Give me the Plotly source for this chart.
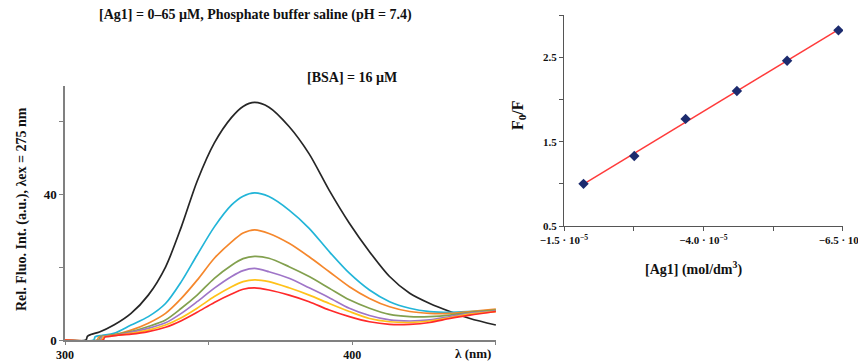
import numpy as np
import plotly.graph_objects as go

# ---------------- Data: fluorescence spectra ----------------
lam_main = [317, 323, 329, 335, 340.5, 346, 352, 358, 362, 366, 371, 378, 385, 392,
            399, 406, 413, 420, 427, 434, 441, 450]

series_names = ["0 µM", "c1", "c2", "c3", "c4", "c5", "c6"]
colors = ["#262626", "#22B5D8", "#F5872C", "#82A04E", "#9F75C8", "#FFC21A", "#FF2A2A"]

onset_lam = {
    "0 µM": [300, 307.3, 307.8, 309, 312],
    "c1": [300, 310.0, 310.5, 313],
    "c2": [300, 311.2, 311.7, 314],
    "c3": [300, 311.8, 312.3, 314.5],
    "c4": [300, 312.3, 312.8, 315],
    "c5": [300, 312.8, 313.3, 315],
    "c6": [300, 313.3, 313.8, 315.5],
}
onset_val = {
    "0 µM": [0, 0, 1.0, 1.5, 2.2],
    "c1": [0, 0, 0.9, 1.3],
    "c2": [0, 0, 0.8, 1.1],
    "c3": [0, 0, 0.8, 1.1],
    "c4": [0, 0, 0.8, 1.0],
    "c5": [0, 0, 0.8, 1.0],
    "c6": [0, 0, 0.8, 1.0],
}
main_val = {
    "0 µM": [4.1, 7.3, 12.3, 20.0, 31.0, 43.5, 54.0, 61.0, 64.0, 65.1, 63.8, 58.5, 51.0, 41.0,
             32.0, 24.2, 17.4, 12.8, 10.0, 7.8, 5.9, 4.1],
    "c1": [1.8, 4.1, 6.4, 10.0, 16.0, 23.3, 31.0, 37.0, 39.4, 40.3, 39.3, 35.6, 30.6, 24.2,
           18.3, 13.7, 10.5, 8.7, 7.8, 7.6, 7.8, 8.2],
    "c2": [1.4, 2.7, 4.6, 7.3, 11.4, 16.4, 22.4, 26.9, 29.3, 30.2, 29.2, 26.5, 22.8, 18.7,
           14.6, 11.4, 9.1, 7.8, 7.3, 7.3, 7.8, 8.5],
    "c3": [1.4, 2.3, 3.7, 5.5, 8.7, 12.3, 16.9, 20.5, 22.3, 22.9, 22.4, 20.1, 17.4, 14.2,
           11.0, 8.7, 7.0, 6.4, 6.4, 6.8, 7.6, 8.2],
    "c4": [1.2, 2.1, 3.2, 4.7, 7.3, 10.5, 14.2, 17.4, 19.0, 19.6, 18.7, 16.9, 14.3, 11.6,
           8.7, 6.7, 5.5, 5.2, 5.5, 6.4, 7.3, 7.9],
    "c5": [1.2, 1.8, 2.7, 4.1, 6.1, 8.7, 11.9, 14.6, 16.0, 16.5, 16.0, 14.3, 12.3, 10.0,
           7.8, 5.9, 5.0, 4.8, 5.2, 6.1, 7.1, 7.8],
    "c6": [1.2, 1.6, 2.3, 3.5, 5.3, 7.6, 10.3, 12.6, 13.9, 14.3, 13.7, 12.3, 10.5, 8.2,
           6.4, 5.0, 4.3, 4.3, 4.8, 5.9, 6.8, 7.8],
}

# ---------------- Data: Stern-Volmer plot ----------------
conc = [1.85e-5, 2.76e-5, 3.68e-5, 4.60e-5, 5.50e-5, 6.42e-5]
f0f = [1.00, 1.33, 1.77, 2.10, 2.46, 2.82]

sv_tickvals = [1.5e-5, 2.75e-5, 4.0e-5, 5.25e-5, 6.5e-5]
sv_ticktext = ["−1.5 · 10<sup>−5</sup>", "", "−4.0 · 10<sup>−5</sup>", "", "−6.5 · 10<sup>−5</sup>"]

# page is offset by the default 8px body margin
OFF = 8
W, H = 866 - OFF, 361 - OFF
SERIF = "Liberation Serif"

fig = go.Figure()

for name, col in zip(series_names, colors):
    fig.add_trace(go.Scatter(
        x=onset_lam[name] + lam_main, y=onset_val[name] + main_val[name],
        mode="lines", line=dict(color=col, width=1.7, shape="spline", smoothing=0.8),
        xaxis="x", yaxis="y", showlegend=False, name=name))

slope, intercept = np.polyfit(conc, f0f, 1)
xfit = np.array([min(conc), max(conc)])
fig.add_trace(go.Scatter(x=xfit, y=slope * xfit + intercept, mode="lines",
                         line=dict(color="#FF3B3B", width=1.5),
                         xaxis="x2", yaxis="y2", showlegend=False))
fig.add_trace(go.Scatter(x=conc, y=f0f, mode="markers",
                         marker=dict(symbol="diamond", size=8, color="#1C2B6E"),
                         xaxis="x2", yaxis="y2", showlegend=False))


def px(x):
    return (x - OFF) / W


def py(y):
    return 1 - (y - OFF) / H


bold = dict(family=SERIF, color="#111111", weight="bold")

fig.update_layout(
    width=W, height=H, margin=dict(l=0, r=0, t=0, b=0),
    paper_bgcolor="white", plot_bgcolor="white",
    xaxis=dict(domain=[px(65), px(496)], range=[300, 450.05],
               tickvals=[300, 350, 400, 450], ticktext=["300", "", "400", ""],
               showline=True, linecolor="#808080", linewidth=1.5,
               ticks="outside", ticklen=3, tickcolor="#808080",
               showgrid=False, zeroline=False, automargin=False,
               tickfont=dict(size=12, **bold), anchor="y"),
    yaxis=dict(domain=[py(340), py(86)], range=[0, 69.6],
               tickvals=[0, 20, 40, 60], ticktext=["0", "", "40", ""],
               showline=True, linecolor="#808080", linewidth=1.5,
               ticks="outside", ticklen=4, tickcolor="#808080",
               showgrid=False, zeroline=False, automargin=False,
               tickfont=dict(size=13, **bold), anchor="x"),
    xaxis2=dict(domain=[px(564), px(843)], range=[1.5e-5, 6.502e-5],
                tickvals=sv_tickvals, ticktext=sv_ticktext,
                showline=True, linecolor="#555555", linewidth=1.3,
                ticks="outside", ticklen=4, tickcolor="#555555",
                showgrid=False, zeroline=False, automargin=False,
                ticklabeloverflow="allow",
                tickfont=dict(size=11, **bold), anchor="y2"),
    yaxis2=dict(domain=[py(226), py(15)], range=[0.5, 3.002],
                tickvals=[0.5, 1.0, 1.5, 2.0, 2.5, 3.0],
                ticktext=["0.5", "", "1.5", "", "2.5", ""],
                showline=True, linecolor="#555555", linewidth=1.3,
                ticks="outside", ticklen=4, tickcolor="#555555",
                showgrid=False, zeroline=False, automargin=False,
                tickfont=dict(size=11, **bold), anchor="x2"),
    annotations=[
        dict(text="[Ag1] = 0–65 µM, Phosphate buffer saline (pH = 7.4)",
             x=px(255), y=py(15), xref="paper", yref="paper", showarrow=False,
             font=dict(size=14, **bold), xanchor="center", yanchor="middle"),
        dict(text="[BSA] = 16 µM", x=px(352), y=py(77), xref="paper", yref="paper",
             showarrow=False, font=dict(size=14, **bold), xanchor="center", yanchor="middle"),
        dict(text="λ (nm)", x=px(473), y=py(353), xref="paper", yref="paper",
             showarrow=False, font=dict(size=13, **bold), xanchor="center", yanchor="middle"),
        dict(text="Rel. Fluo. Int. (a.u.), λex = 275 nm", x=px(22), y=py(209),
             xref="paper", yref="paper", showarrow=False, textangle=-90,
             font=dict(size=14, **bold), xanchor="center", yanchor="middle"),
        dict(text="F<sub>0</sub>/F", x=px(518), y=py(115),
             xref="paper", yref="paper", showarrow=False, textangle=-90,
             font=dict(size=16, **bold), xanchor="center", yanchor="middle"),
        dict(text="[Ag1] (mol/dm<sup>3</sup>)", x=px(693), y=py(268),
             xref="paper", yref="paper", showarrow=False,
             font=dict(size=14, **bold), xanchor="center", yanchor="middle"),
    ],
)

fig.write_html("out.html")
